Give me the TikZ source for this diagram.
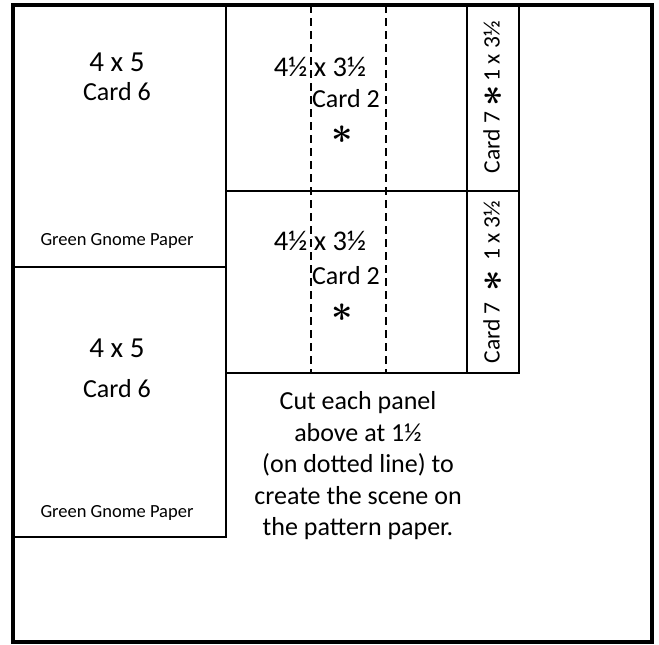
\documentclass[tikz,border=0pt]{standalone}
\usepackage{fontspec}
\setmainfont{Carlito}
\usepackage{graphicx}
\usetikzlibrary{positioning}

\newcommand{\cardstar}{\raisebox{-3pt}{\scalebox{1.5}{\boldmath$\ast$}}}

\tikzset{
  frameline/.style={line width=3.5pt},
  cutline/.style={line width=1.6pt},
  foldline/.style={line width=1.6pt,dash pattern=on 8pt off 5pt},
  sizetext/.style={font=\fontsize{29}{32}\selectfont,inner sep=0pt},
  cardtext/.style={font=\fontsize{26}{28}\selectfont,inner sep=0pt},
  panettext/.style={font=\fontsize{28.5}{30}\selectfont,inner sep=0pt},
  startext/.style={font=\fontsize{26}{28}\selectfont,inner sep=0pt,text height=6pt,text depth=6pt},
  papertext/.style={font=\fontsize{18.5}{20}\selectfont,inner sep=0pt},
  striptext/.style={font=\fontsize{23.5}{25}\selectfont,inner sep=0pt,rotate=90},
  notetext/.style={font=\fontsize{26}{31.5}\selectfont,inner sep=0pt,align=center}
}

\begin{document}
\begin{tikzpicture}[x=1pt,y=-1pt]
\useasboundingbox (0,0) rectangle (659,645);

% outer sheet
\draw [frameline] (13,5) rectangle (652,642);
\draw [line width=1pt] (12,5) -- (12,642);

% left column, two 4 x 5 panels
\draw [cutline] (226,5) -- (226,537) -- (13,537);
\draw [cutline] (13,267) -- (226,267);

% middle panels and side strip
\draw [cutline] (226,191) -- (519,191);
\draw [cutline] (226,373) -- (519,373) -- (519,5);
\draw [cutline] (467,5) -- (467,373);
\draw [foldline] (311,5) -- (311,373);
\draw [foldline] (386,5) -- (386,373);

% texts, left column
\node [sizetext] (sizeA) at (117,62) {4 x 5};
\node [cardtext] (cardA) at (117,92) {Card 6};
\node [papertext] (paperA) at (117,241) {Green Gnome Paper};
\node [sizetext] (sizeB) at (117,348) {4 x 5};
\node [cardtext] (cardB) at (117,389) {Card 6};
\node [papertext] (paperB) at (117,513) {Green Gnome Paper};

% texts, middle panels
\node [panettext] (panelA) at (320,67) {4½ x 3½};
\node [cardtext] (panelcardA) at (346,99) {Card 2};
\node [startext] (starA) at (342,140) {\cardstar};
\node [panettext] (panelB) at (320,241) {4½ x 3½};
\node [cardtext] (panelcardB) at (346,276) {Card 2};
\node [startext] (starB) at (342,318) {\cardstar};

% texts, side strip
\node [striptext] (stripA) at (493,97) {Card 7 \cardstar\,1 x 3½};
\node [striptext] (stripB) at (493,282) {Card 7 \ \cardstar\ \,1 x 3½};

% note below the panels
\node [notetext] (note) at (358,466) {Cut each panel\\above at 1½\\(on dotted line) to\\create the scene on\\the pattern paper.};
\end{tikzpicture}
\end{document}
